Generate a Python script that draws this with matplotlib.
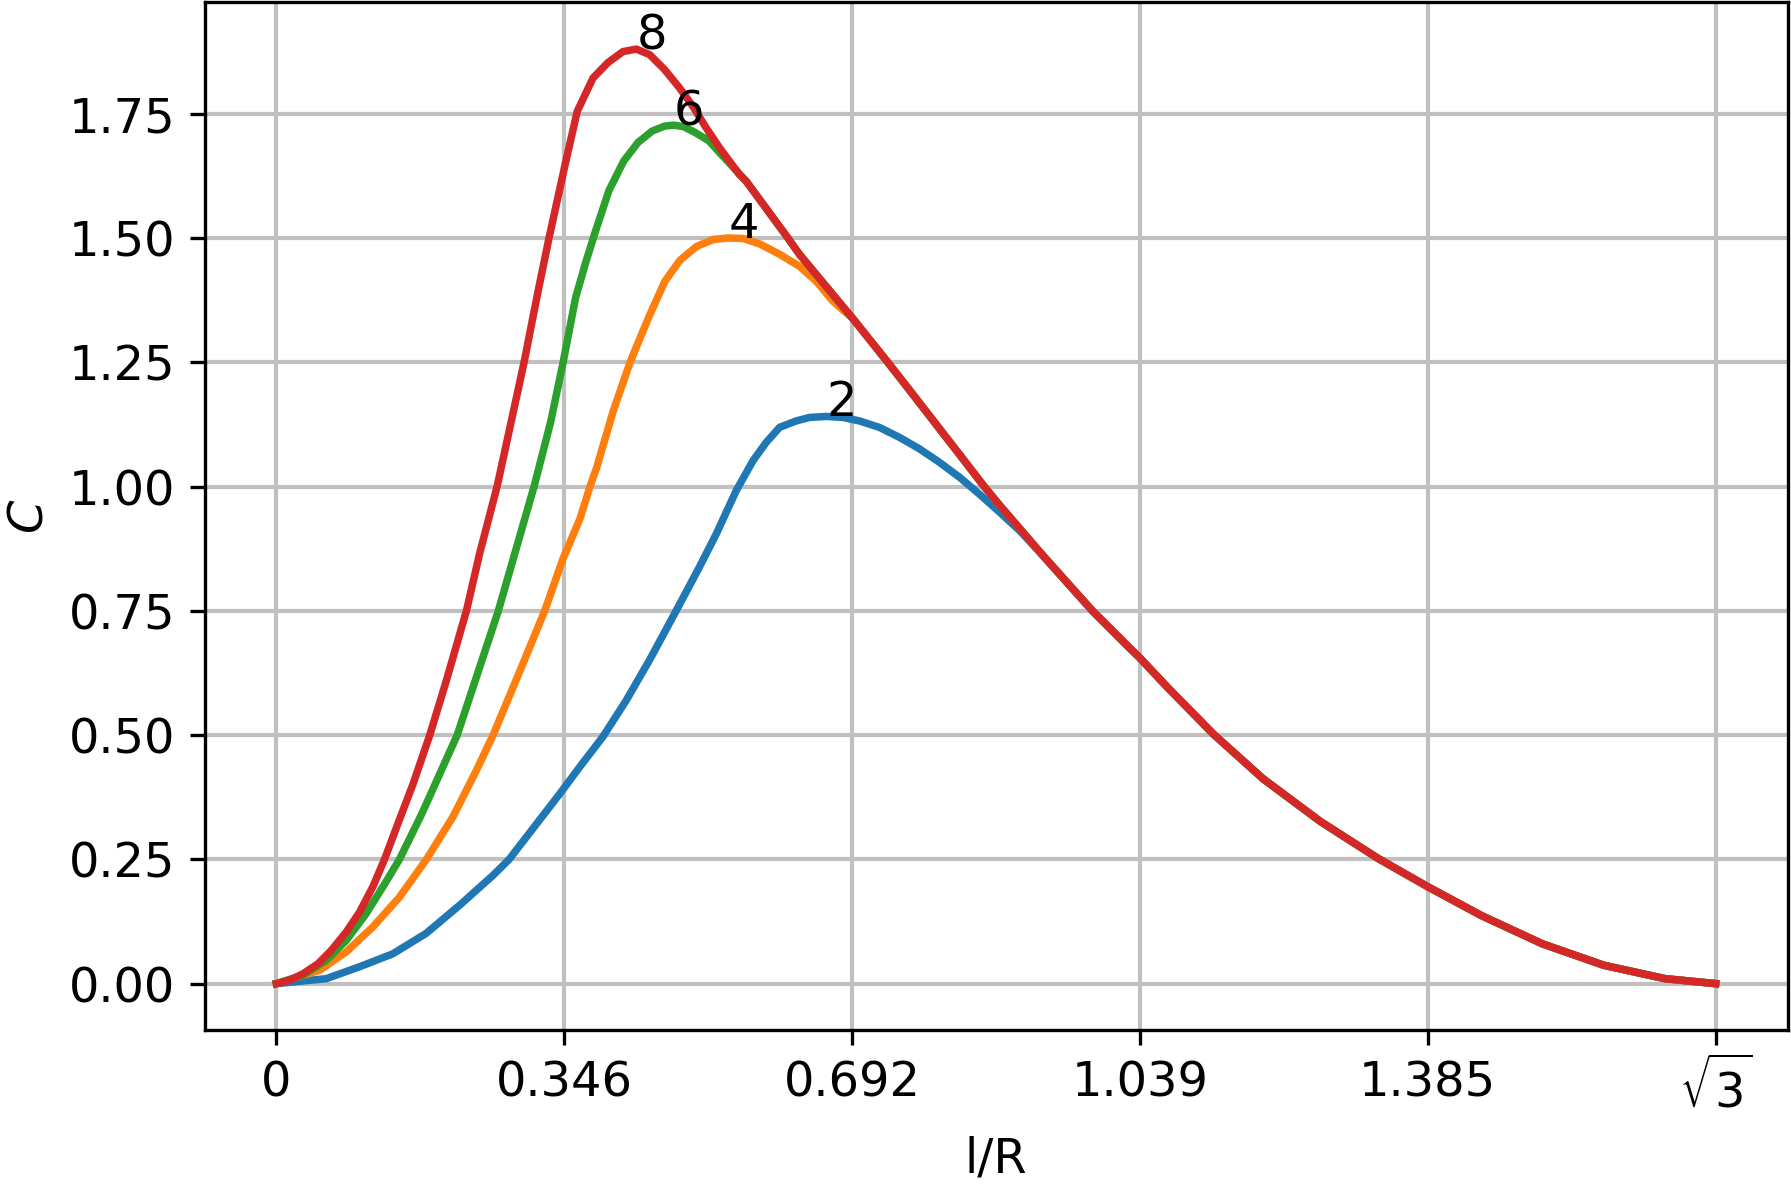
import matplotlib
matplotlib.use("Agg")
import matplotlib.pyplot as plt
import numpy as np

# common right-hand branch where all curves lie on top of each other
tail_x = [0.5654, 0.6155, 0.6295, 0.6936, 0.7357, 0.7577, 0.8218, 0.8518, 0.870, 0.922,
          0.982, 1.0263, 1.0392, 1.0724, 1.1276, 1.1875, 1.2566, 1.3257, 1.3856, 1.4501,
          1.5237, 1.5974, 1.6711, 1.7321]
tail_y = [1.614, 1.500, 1.467, 1.338, 1.250, 1.203, 1.065, 1.000, 0.963, 0.862,
          0.750, 0.676, 0.655, 0.596, 0.502, 0.412, 0.326, 0.252, 0.195, 0.137,
          0.080, 0.037, 0.010, 0.000]

# n = 2
x2 = [0, 0.060, 0.100, 0.140, 0.180, 0.2206, 0.2607, 0.2800, 0.3008, 0.341, 0.365, 0.393,
      0.421, 0.449, 0.481, 0.509, 0.5294, 0.5534, 0.5735, 0.5895, 0.6055, 0.6255, 0.6415,
      0.6616, 0.6816, 0.7016, 0.7256, 0.7497, 0.7737, 0.7977, 0.8218, 0.8458, 0.870, 0.894]
y2 = [0, 0.010, 0.034, 0.060, 0.101, 0.158, 0.218, 0.250, 0.295, 0.382, 0.436, 0.497,
      0.570, 0.651, 0.750, 0.838, 0.905, 0.992, 1.052, 1.089, 1.119, 1.132, 1.139,
      1.141, 1.139, 1.132, 1.119, 1.099, 1.076, 1.049, 1.019, 0.985, 0.949, 0.912]

# n = 4
x4 = [0, 0.052, 0.084, 0.116, 0.148, 0.1805, 0.2125, 0.2406, 0.2607, 0.2967, 0.3228, 0.3449,
      0.3652, 0.3773, 0.3853, 0.4053, 0.4254, 0.4334, 0.4494, 0.4675, 0.4855, 0.5056, 0.5256,
      0.5436, 0.5617, 0.5817, 0.6058, 0.6295, 0.6496, 0.6696]
y4 = [0, 0.027, 0.064, 0.114, 0.174, 0.250, 0.336, 0.429, 0.500, 0.644, 0.750, 0.855,
      0.935, 1.000, 1.038, 1.152, 1.249, 1.282, 1.346, 1.413, 1.455, 1.483, 1.497,
      1.500, 1.499, 1.488, 1.467, 1.443, 1.413, 1.373]

# n = 6
x6 = [0, 0.032, 0.060, 0.084, 0.108, 0.130, 0.148, 0.175, 0.2175, 0.267, 0.289, 0.310,
      0.330, 0.345, 0.360, 0.372, 0.384, 0.400, 0.418, 0.435, 0.452, 0.467, 0.478, 0.490,
      0.503, 0.520, 0.537]
y6 = [0, 0.017, 0.047, 0.087, 0.141, 0.200, 0.250, 0.342, 0.500, 0.750, 0.878, 1.000,
      1.130, 1.250, 1.380, 1.450, 1.514, 1.595, 1.655, 1.692, 1.715, 1.725, 1.727, 1.724,
      1.713, 1.696, 1.665]

# n = 8
x8 = [0, 0.016, 0.032, 0.050, 0.066, 0.084, 0.100, 0.116, 0.130, 0.148, 0.164, 0.1845,
      0.2045, 0.2286, 0.2446, 0.2655, 0.298, 0.314, 0.328, 0.347, 0.362, 0.381, 0.399,
      0.417, 0.433, 0.449, 0.467, 0.485, 0.501, 0.517, 0.533, 0.557]
y8 = [0, 0.007, 0.020, 0.040, 0.067, 0.104, 0.144, 0.195, 0.250, 0.330, 0.400, 0.500,
      0.610, 0.750, 0.866, 1.000, 1.250, 1.386, 1.500, 1.645, 1.755, 1.822, 1.853,
      1.875, 1.880, 1.869, 1.839, 1.802, 1.765, 1.722, 1.682, 1.628]

labels = ["2", "4", "6", "8"]
series = [(x2, y2, 0.922), (x4, y4, 0.6936), (x6, y6, 0.5654), (x8, y8, 0.5654)]

tick_pos = [0, 0.3464, 0.6928, 1.0392, 1.3856, 1.7321]
tick_lab = ["0", "0.346", "0.692", "1.039", "1.385", r"$\sqrt{3}$"]

plt.rcParams["font.size"] = 11.5

fig = plt.figure(figsize=(5.97, 3.95), dpi=300)
ax = fig.add_axes([0.1142, 0.1305, 0.8839, 0.8675])

tx = np.array(tail_x)
ty = np.array(tail_y)
for lab, (xs, ys, start) in zip(labels, series):
    keep = tx >= start
    xx = np.concatenate([xs, tx[keep]])
    yy = np.concatenate([ys, ty[keep]])
    ax.plot(xx, yy, lw=1.8)
    k = int(np.argmax(yy))
    ax.text(xx[k], yy[k], lab, ha="left", va="baseline")

ax.set_xticks(tick_pos)
ax.set_xticklabels(tick_lab)
ax.grid(True, color="#c0c0c0", lw=1.0)
ax.set_xlabel("l/R")
ax.set_ylabel("$C$")

fig.savefig("out.png", dpi=300)
